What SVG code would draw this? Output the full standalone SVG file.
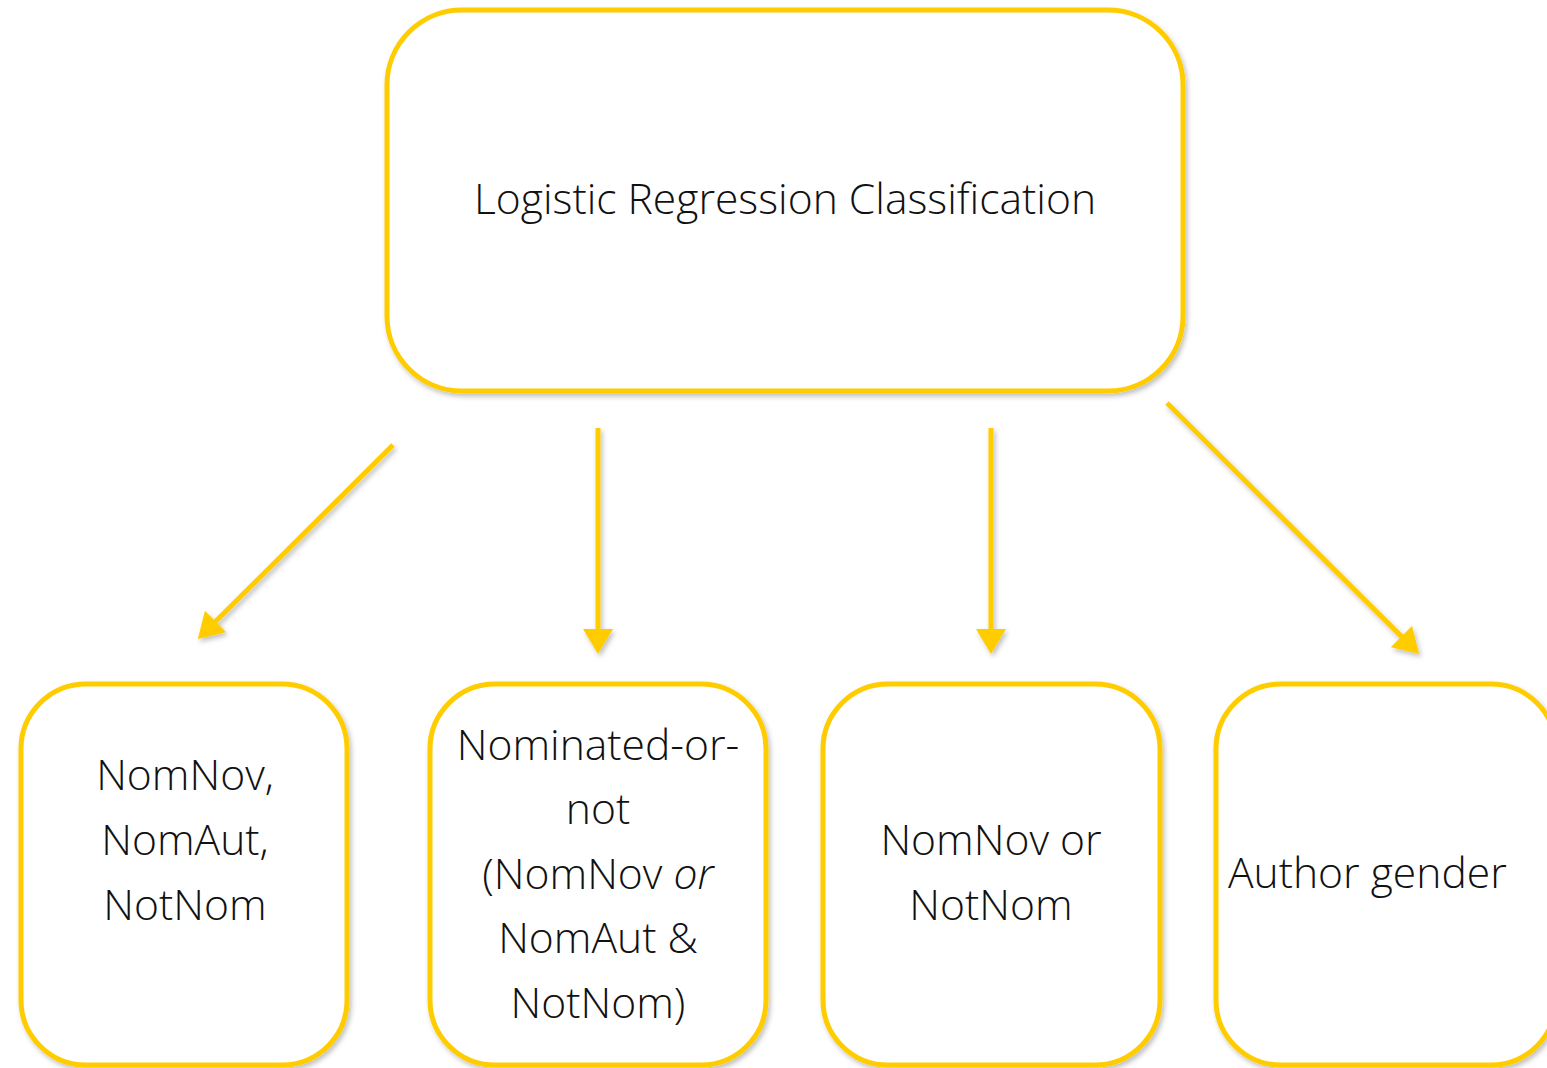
<svg xmlns="http://www.w3.org/2000/svg" width="1547" height="1068" viewBox="0 0 1547 1068">
<style>
.box{fill:#fff;stroke:#FFCC00;stroke-width:5}
.t{font-family:"Open Sans","Liberation Sans",sans-serif;font-weight:300;font-size:42.6px;fill:#111;text-anchor:middle}
.c{stroke:#FFCC00;stroke-width:5;fill:none;marker-end:url(#ah)}
</style>
<defs>
<filter id="sh" x="-10%" y="-10%" width="120%" height="120%">
<feDropShadow dx="2" dy="3" stdDeviation="2.5" flood-color="#000" flood-opacity="0.25"/>
</filter>
<marker id="ah" markerWidth="6" markerHeight="6" refX="1" refY="3" orient="auto" markerUnits="strokeWidth">
<path d="M0,0 L5,3 L0,6 Z" fill="#FFCC00"/>
</marker>
</defs>
<g id="root">
<rect class="box" filter="url(#sh)" x="387" y="10" width="796" height="381" rx="75"/>
<text class="t" x="785" y="214">Logistic Regression Classification</text>
</g>
<g id="n1">
<rect class="box" filter="url(#sh)" x="21" y="684" width="326" height="381" rx="65"/>
<text class="t" x="185" y="790">NomNov,</text>
<text class="t" x="185" y="855">NomAut,</text>
<text class="t" x="185" y="920">NotNom</text>
</g>
<g id="n2">
<rect class="box" filter="url(#sh)" x="430" y="684" width="336" height="381" rx="65"/>
<text class="t" x="598" y="760">Nominated-or-</text>
<text class="t" x="598" y="824">not</text>
<text class="t" x="598" y="889">(NomNov <tspan font-style="italic">or</tspan></text>
<text class="t" x="598" y="953">NomAut &amp;</text>
<text class="t" x="598" y="1018">NotNom)</text>
</g>
<g id="n3">
<rect class="box" filter="url(#sh)" x="823" y="684" width="337" height="381" rx="65"/>
<text class="t" x="991" y="855">NomNov or</text>
<text class="t" x="991" y="920">NotNom</text>
</g>
<g id="n4">
<rect class="box" filter="url(#sh)" x="1216" y="684" width="340" height="381" rx="65"/>
<text class="t" x="1228" y="888" style="text-anchor:start">Author gender</text>
</g>
<g id="connectors" filter="url(#sh)">
<line class="c" x1="393" y1="445" x2="212" y2="625"/>
<line class="c" x1="598" y1="428" x2="598" y2="634"/>
<line class="c" x1="991" y1="428" x2="991" y2="634"/>
<line class="c" x1="1167" y1="403" x2="1405" y2="640"/>
</g>
</svg>
